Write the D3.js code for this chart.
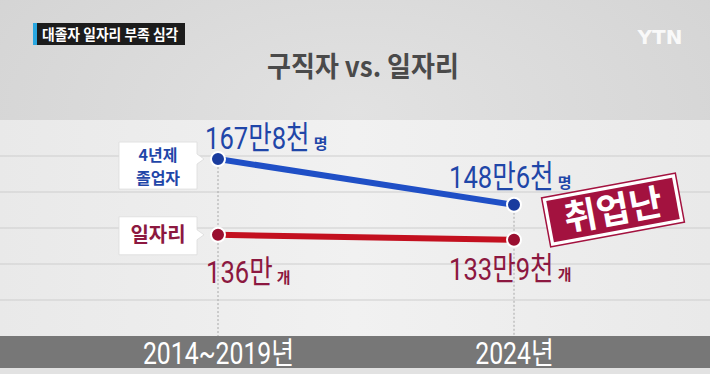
<!DOCTYPE html>
<html>
<head>
<meta charset="utf-8">
<script src="https://cdn.jsdelivr.net/npm/d3@7"></script>
<style>
  body { margin: 0; background: #d9d9d9; }
  svg { display: block; font-family: "Noto Sans CJK KR", "Noto Sans", sans-serif; }
</style>
</head>
<body>
<svg id="chart"></svg>
<script>
// data (만 단위)
var periods = ["2014~2019년", "2024년"];
var graduates = [167.8, 148.6];
var jobs = [136.0, 133.9];
var graduateLabels = ["167만8천", "148만6천"];
var jobLabels = ["136만", "133만9천"];
var seriesNames = [["4년제", "졸업자"], ["일자리"]];
var units = ["명", "개"];

var width = 710, height = 374;
var panel = {top: 120, bottom: 336};
var numFont = "Roboto, 'Noto Sans CJK KR', sans-serif";

var svg = d3.select("#chart").attr("width", width).attr("height", height);

// background
var defs = svg.append("defs");
var bg = defs.append("radialGradient").attr("id", "bg").attr("cx", "50%").attr("cy", "30%").attr("r", "70%");
bg.append("stop").attr("offset", "0%").attr("stop-color", "#e2e2e2");
bg.append("stop").attr("offset", "100%").attr("stop-color", "#d2d2d2");
svg.append("rect").attr("width", width).attr("height", height).attr("fill", "url(#bg)");

var pg = defs.append("linearGradient").attr("id", "panel").attr("x1", 0).attr("x2", 1);
pg.append("stop").attr("offset", "0%").attr("stop-color", "#e9e9e9");
pg.append("stop").attr("offset", "50%").attr("stop-color", "#f1f1f1");
pg.append("stop").attr("offset", "100%").attr("stop-color", "#e9e9e9");
svg.append("rect").attr("x", 0).attr("y", panel.top).attr("width", width)
  .attr("height", panel.bottom - panel.top).attr("fill", "url(#panel)");

// grid lines
svg.selectAll(".grid").data(d3.range(1, 6)).enter().append("line")
  .attr("x1", 0).attr("x2", width)
  .attr("y1", function(i) { return panel.top + i * 36; })
  .attr("y2", function(i) { return panel.top + i * 36; })
  .attr("stroke", "#cdcdcd").attr("stroke-width", 1.2);

// scales
var x = d3.scalePoint().domain(periods).range([218, 514]);
var y = d3.scaleLinear().domain([93.5, 184.2]).range([panel.bottom, panel.top]);

// dotted guides
svg.selectAll(".guide").data(periods).enter().append("line")
  .attr("x1", function(d) { return x(d); }).attr("x2", function(d) { return x(d); })
  .attr("y1", function(d, i) { return y(graduates[i]); })
  .attr("y2", panel.bottom)
  .attr("stroke", "#a8a8a8").attr("stroke-width", 1).attr("stroke-dasharray", "2,2");

// bottom band + axis
svg.append("rect").attr("x", 0).attr("y", panel.bottom).attr("width", width).attr("height", 32).attr("fill", "#777777");
svg.append("rect").attr("x", 0).attr("y", panel.bottom + 32).attr("width", width).attr("height", height - panel.bottom - 32).attr("fill", "#e2e2e2");

var axis = svg.append("g").attr("transform", "translate(0," + (panel.bottom + 28) + ")")
  .call(d3.axisBottom(x).tickSize(0).tickPadding(0));
axis.select(".domain").remove();
axis.selectAll("text")
  .attr("y", 0).attr("dy", 0)
  .attr("fill", "#ffffff")
  .style("font-family", numFont)
  .style("font-size", "31px")
  .style("font-weight", "400")
  .attr("transform", "scale(0.8,1)");

// lines
var line = d3.line().x(function(d, i) { return x(periods[i]); }).y(function(d) { return y(d); });
var series = [
  {values: graduates, labels: graduateLabels, unit: units[0], name: seriesNames[0], line: "#1f4fc6", dot: "#1a3c9e", text: "#1f46a8"},
  {values: jobs, labels: jobLabels, unit: units[1], name: seriesNames[1], line: "#c3101f", dot: "#9a0f30", text: "#8c1840"}
];

series.forEach(function(s) {
  svg.append("path").datum(s.values).attr("d", line)
    .attr("fill", "none").attr("stroke", s.line).attr("stroke-width", 6);
  svg.selectAll(null).data(s.values).enter().append("circle")
    .attr("cx", function(d, i) { return x(periods[i]); })
    .attr("cy", function(d) { return y(d); })
    .attr("r", 7).attr("fill", s.dot).attr("stroke", "#ffffff").attr("stroke-width", 2);
});

// value labels
var offsets = [
  [{dx: -13, dy: -10}, {dx: -65, dy: -17}],
  [{dx: -12, dy: 48}, {dx: -65, dy: 40}]
];
series.forEach(function(s, si) {
  s.values.forEach(function(v, i) {
    var px = x(periods[i]) + offsets[si][i].dx, py = y(v) + offsets[si][i].dy;
    var g = svg.append("g").attr("transform", "translate(" + px + "," + py + ")");
    var t = g.append("text").attr("transform", "scale(0.8,1)")
      .attr("fill", s.text).style("font-family", numFont).style("font-weight", "400")
      .style("font-size", "32px").text(s.labels[i]);
    var w = t.node().getBBox().width * 0.8;
    g.append("text").attr("x", w + 4).attr("fill", s.text)
      .style("font-size", "15px").style("font-weight", "bold").text(s.unit);
  });
});

// callout boxes
series.forEach(function(s, si) {
  var cy = y(s.values[0]), right = x(periods[0]) - 21, left = right - 78;
  var top = si === 0 ? cy - 17 : cy - 18, bottom = si === 0 ? cy + 30 : cy + 20;
  var g = svg.append("g");
  g.append("path")
    .attr("d", "M" + left + "," + top + "H" + right + "V" + (cy - 5) + "L" + (right + 7) + "," + cy +
      "L" + right + "," + (cy + 5) + "V" + bottom + "H" + left + "Z")
    .attr("fill", "#ffffff").attr("stroke", "#dcdcdc").attr("stroke-width", 0.8);
  s.name.forEach(function(n, k) {
    g.append("text").attr("text-anchor", "middle").attr("fill", s.text)
      .style("font-weight", "bold").style("font-size", s.name.length > 1 ? "16px" : "20px")
      .attr("x", (left + right) / 2)
      .attr("y", cy + (s.name.length > 1 ? (k === 0 ? 2 : 25) : 7)).text(n);
  });
});

// stamp
var stamp = svg.append("g").attr("transform", "translate(613,210) rotate(-10.5)");
stamp.append("rect").attr("x", -68).attr("y", -25).attr("width", 136).attr("height", 50)
  .attr("fill", "#ffffff").attr("stroke", "#a3123f").attr("stroke-width", 1.5);
stamp.append("rect").attr("x", -64).attr("y", -21).attr("width", 128).attr("height", 42).attr("fill", "#a3123f");
stamp.append("text").attr("text-anchor", "middle").attr("y", 13).attr("fill", "#ffffff")
  .style("font-size", "36px").style("font-weight", "bold").text("취업난");

// title
svg.append("text").attr("x", 363).attr("y", 77).attr("text-anchor", "middle")
  .attr("fill", "#4a4a4a").style("font-size", "28px").style("font-weight", "bold")
  .attr("transform", "translate(363,0) scale(0.93,1) translate(-363,0)")
  .text("구직자 vs. 일자리");

// top-left tag
svg.append("rect").attr("x", 33).attr("y", 23).attr("width", 152).attr("height", 22).attr("fill", "#1c1c1c");
svg.append("rect").attr("x", 33).attr("y", 23).attr("width", 4).attr("height", 22).attr("fill", "#2aa7e0");
svg.append("text").attr("x", 42).attr("y", 40).attr("fill", "#ffffff")
  .attr("transform", "translate(42,0) scale(0.92,1) translate(-42,0)")
  .style("font-size", "15px").style("font-weight", "bold").text("대졸자 일자리 부족 심각");

// logo
svg.append("text").attr("x", 660).attr("y", 44).attr("text-anchor", "middle")
  .attr("fill", "#ffffff").attr("opacity", 0.85)
  .style("font-family", "'DejaVu Sans', sans-serif")
  .style("font-size", "20px").style("font-weight", "bold").text("YTN");
</script>
</body>
</html>
